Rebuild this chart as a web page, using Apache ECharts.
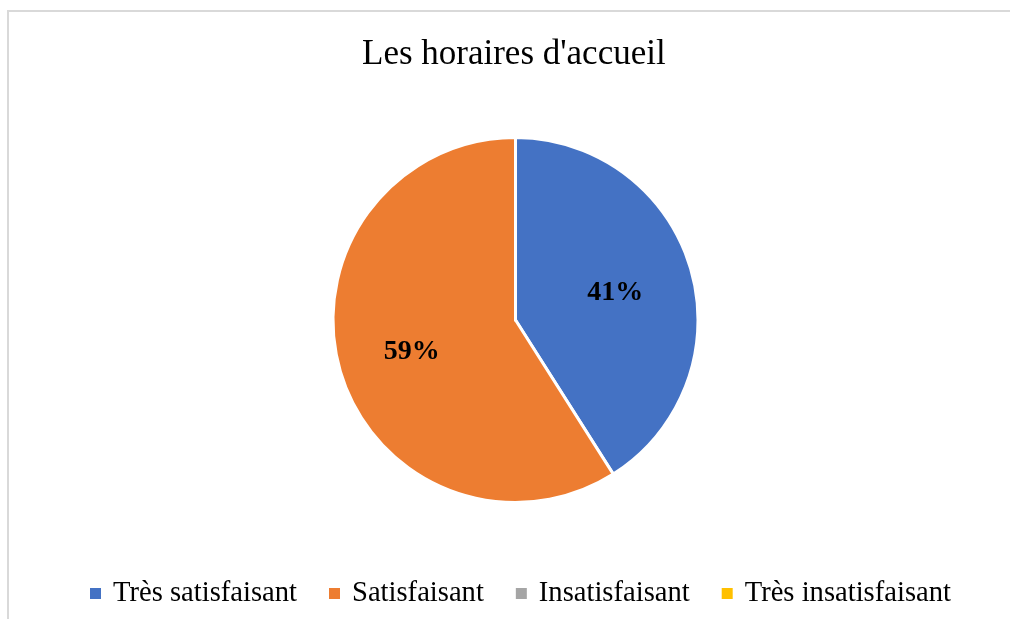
<!DOCTYPE html>
<html><head><meta charset="utf-8">
<script src="https://cdn.jsdelivr.net/npm/echarts@6/dist/echarts.min.js"></script>
<style>html,body{margin:0;padding:0;background:#fff}#c{width:1010px;height:619px}</style>
</head><body><div id="c"></div>
<script>
const titleText = "Les horaires d'accueil";
const categories = ["Très satisfaisant", "Satisfaisant", "Insatisfaisant", "Très insatisfaisant"];
const values = [41, 59, 0, 0];
const colors = ["#4472C4", "#ED7D31", "#A5A5A5", "#FFC000"];

const data = categories.map((n, i) => ({ name: n, value: values[i], itemStyle: { color: colors[i] } }));
const chart = echarts.init(document.getElementById('c'), null, { renderer: 'canvas' });
const serif = "'Liberation Serif', 'Times New Roman', serif";
chart.setOption({
  animation: false,
  backgroundColor: '#fff',
  graphic: [{ type: 'rect', shape: { x: 8, y: 11, width: 1100, height: 700 }, style: { fill: 'none', stroke: '#d9d9d9', lineWidth: 2 }, silent: true }],
  title: { text: titleText, left: 362, top: 37, padding: 0, textStyle: { fontFamily: serif, fontSize: 35, fontWeight: 'normal', color: '#000' } },
  legend: {
    data: categories, left: 90, top: 579, padding: 0, itemWidth: 11, itemHeight: 11, itemGap: 32, icon: 'rect',
    itemStyle: { borderWidth: 0 },
    textStyle: { fontFamily: serif, fontSize: 28.6, color: '#000', padding: [0, 0, 0, 7] }
  },
  series: [{
    type: 'pie', center: [515.5, 320], radius: [0, 182.5], startAngle: 90, clockwise: true,
    data: data, label: { show: false }, labelLine: { show: false },
    itemStyle: { borderColor: '#fff', borderWidth: 3 }, emphasis: { disabled: true }, silent: true
  }, {
    type: 'pie', center: [515.5, 320], radius: [0, 206], startAngle: 90, clockwise: true,
    data: data.map(d => ({ name: d.name, value: d.value, itemStyle: { color: 'rgba(0,0,0,0)' } })),
    label: { show: true, position: 'inside', offset: [-2, 2], formatter: p => p.value > 0 ? p.value + '%' : '',
      fontFamily: serif, fontSize: 28, fontWeight: 'bold', color: '#000' },
    labelLine: { show: false }, emphasis: { disabled: true }, silent: true, legendHoverLink: false
  }]
});
</script></body></html>
